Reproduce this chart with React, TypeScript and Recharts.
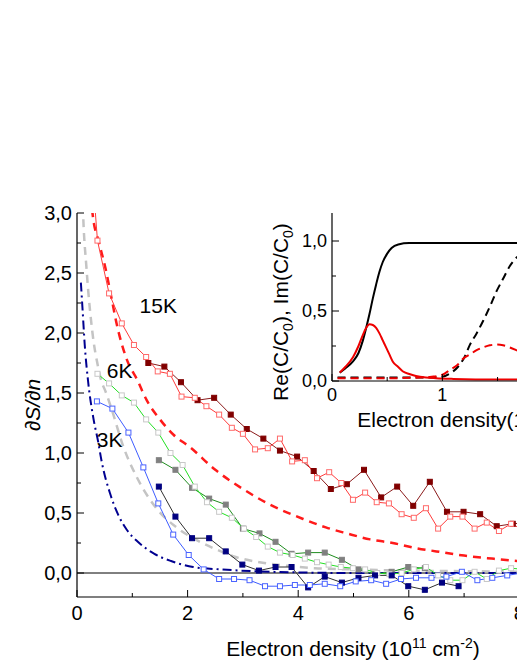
import {
  CartesianGrid,
  ComposedChart,
  Line,
  LineChart,
  ReferenceDot,
  ReferenceLine,
  XAxis,
  YAxis,
} from "recharts";

const FONT = "'Liberation Sans', Arial, Helvetica, sans-serif";

// ---- main plot: theory curves ----
const theory15X = [0.25, 0.28, 0.4, 0.51, 0.62, 0.72, 0.9, 1.1, 1.26, 1.5, 1.75, 2.04, 2.5, 3.0, 3.49, 4.09, 4.5, 4.88, 5.3, 5.71, 6.1, 6.5, 7.0, 7.5, 7.96, 8.5, 9.2, 10];
const theory15Y = [3.15, 3.0, 2.75, 2.55, 2.3, 2.07, 1.78, 1.6, 1.44, 1.28, 1.15, 1.05, 0.86, 0.7, 0.57, 0.45, 0.38, 0.33, 0.28, 0.25, 0.21, 0.18, 0.145, 0.12, 0.1, 0.085, 0.07, 0.055];

const theory6X = [0.09, 0.11, 0.17, 0.28, 0.38, 0.44, 0.51, 0.63, 0.84, 1.08, 1.4, 1.8, 2.1, 2.5, 2.82, 3.3, 3.8, 4.3, 5.0, 6.0, 7.0, 8.5, 10];
const theory6Y = [3.3, 3.0, 2.55, 2.0, 1.72, 1.6, 1.52, 1.36, 1.05, 0.8, 0.56, 0.38, 0.29, 0.2, 0.14, 0.09, 0.06, 0.04, 0.03, 0.02, 0.015, 0.01, 0.01];

const theory3X = [0.07, 0.1, 0.14, 0.2, 0.3, 0.38, 0.45, 0.6, 0.75, 0.9, 1.1, 1.4, 1.7, 2.1, 2.6, 3.2, 4.0, 5.0, 10];
const theory3Y = [2.42, 2.2, 1.9, 1.6, 1.28, 1.1, 0.92, 0.66, 0.48, 0.36, 0.26, 0.16, 0.1, 0.05, 0.03, 0.015, 0.005, 0, 0];

// ---- main plot: measured data ----
const open15X = [0.3, 0.37, 0.58, 0.81, 1.03, 1.25, 1.46, 1.68, 1.89, 2.13, 2.34, 2.57, 2.8, 3.0, 3.22, 3.45, 3.67, 3.89, 4.12, 4.34, 4.56, 4.78, 4.99, 5.21, 5.42, 5.64, 5.87, 6.09, 6.31, 6.53, 6.75, 6.97, 7.19, 7.41, 7.63, 7.85, 8.07, 8.29];
const open15Y = [3.2, 2.77, 2.33, 2.08, 1.9, 1.8, 1.68, 1.66, 1.47, 1.46, 1.39, 1.32, 1.21, 1.16, 1.03, 1.04, 1.12, 0.93, 0.94, 0.79, 0.84, 0.75, 0.61, 0.67, 0.59, 0.58, 0.49, 0.46, 0.54, 0.37, 0.47, 0.47, 0.37, 0.42, 0.35, 0.41, 0.36, 0.38];

const full15X = [1.29, 1.58, 1.88, 2.18, 2.48, 2.78, 3.07, 3.37, 3.67, 3.98, 4.28, 4.59, 4.88, 5.19, 5.5, 5.79, 6.08, 6.38, 6.69, 6.99, 7.29, 7.59, 7.88, 8.18];
const full15Y = [1.75, 1.72, 1.59, 1.44, 1.46, 1.32, 1.2, 1.12, 1.02, 0.97, 0.85, 0.7, 0.74, 0.86, 0.63, 0.72, 0.56, 0.76, 0.51, 0.51, 0.49, 0.39, 0.41, 0.42];

const open6X = [0.37, 0.58, 0.81, 1.03, 1.25, 1.47, 1.69, 1.91, 2.13, 2.35, 2.57, 2.8, 3.02, 3.24, 3.45, 3.67, 3.9, 4.12, 4.34, 4.55, 4.77, 4.99, 5.21, 5.43, 5.65, 5.87, 6.09, 6.31, 6.53, 6.75, 6.97, 7.19, 7.41, 7.63, 7.85, 8.07];
const open6Y = [1.66, 1.58, 1.48, 1.42, 1.28, 1.17, 1.0, 0.9, 0.72, 0.59, 0.51, 0.46, 0.37, 0.3, 0.22, 0.17, 0.15, 0.12, 0.09, 0.07, 0.05, 0.04, 0.03, 0.0, -0.01, 0.0, 0.03, 0.05, -0.02, -0.06, -0.06, 0.01, -0.05, 0.02, 0.04, 0.03];

const full6X = [1.48, 1.78, 2.08, 2.39, 2.69, 3.0, 3.3, 3.59, 3.88, 4.18, 4.48, 4.79, 5.09, 5.39, 5.69, 5.99, 6.29];
const full6Y = [0.94, 0.86, 0.71, 0.62, 0.57, 0.37, 0.33, 0.26, 0.16, 0.17, 0.17, 0.11, 0.03, -0.01, 0.01, 0.05, 0.04];

const open3X = [0.36, 0.64, 0.93, 1.2, 1.47, 1.74, 2.02, 2.29, 2.57, 2.84, 3.12, 3.4, 3.67, 3.94, 4.21, 4.48, 4.76, 5.04, 5.32, 5.59, 5.86, 6.13, 6.41, 6.68, 6.96, 7.24, 7.51, 7.78, 8.05];
const open3Y = [1.43, 1.37, 1.17, 0.88, 0.58, 0.32, 0.15, 0.03, -0.05, -0.05, -0.06, -0.11, -0.11, -0.1, -0.1, -0.09, -0.11, -0.07, -0.06, -0.09, -0.05, -0.04, -0.04, -0.03, 0.01, -0.06, -0.04, -0.02, 0.0];

const full3X = [1.48, 1.78, 2.08, 2.39, 2.69, 2.99, 3.29, 3.59, 3.88, 4.18, 4.48, 4.79, 5.09, 5.39, 5.69, 5.99, 6.29, 6.6, 6.9];
const full3Y = [0.72, 0.47, 0.29, 0.29, 0.18, 0.07, 0.02, 0.05, 0.05, -0.12, -0.03, -0.08, -0.04, -0.02, -0.02, -0.11, -0.14, -0.08, -0.11];

// ---- inset: Re / Im of C/C0 ----
const reSolidX = [0.07, 0.12, 0.19, 0.24, 0.28, 0.31, 0.34, 0.37, 0.4, 0.43, 0.46, 0.5, 0.54, 0.6, 0.7, 1.0, 1.5, 2.0, 2.7];
const reSolidY = [0.06, 0.09, 0.14, 0.2, 0.29, 0.38, 0.48, 0.59, 0.69, 0.78, 0.85, 0.91, 0.95, 0.975, 0.985, 0.985, 0.985, 0.985, 0.985];

const imSolidX = [0.07, 0.12, 0.19, 0.24, 0.28, 0.31, 0.34, 0.37, 0.4, 0.43, 0.46, 0.49, 0.52, 0.55, 0.6, 0.64, 0.7, 0.76, 0.85, 0.94, 1.1, 1.5, 2.0, 2.7];
const imSolidY = [0.06, 0.1, 0.17, 0.25, 0.33, 0.38, 0.405, 0.4, 0.38, 0.34, 0.29, 0.24, 0.19, 0.14, 0.1, 0.07, 0.05, 0.036, 0.025, 0.02, 0.015, 0.01, 0.01, 0.01];

const reDashX = [0.05, 0.5, 0.9, 1.0, 1.06, 1.14, 1.2, 1.25, 1.31, 1.37, 1.43, 1.49, 1.55, 1.61, 1.67, 1.75, 1.85, 2.0, 2.3, 2.7];
const reDashY = [0.025, 0.025, 0.025, 0.03, 0.05, 0.1, 0.17, 0.26, 0.34, 0.43, 0.53, 0.64, 0.73, 0.82, 0.88, 0.93, 0.96, 0.98, 0.985, 0.985];

const imDashX = [0.05, 0.5, 0.8, 0.9, 1.0, 1.07, 1.13, 1.19, 1.25, 1.31, 1.37, 1.43, 1.49, 1.55, 1.61, 1.67, 1.75, 1.85, 2.0, 2.2, 2.5, 2.7];
const imDashY = [0.02, 0.02, 0.025, 0.03, 0.045, 0.08, 0.11, 0.16, 0.19, 0.22, 0.24, 0.255, 0.26, 0.255, 0.24, 0.22, 0.19, 0.16, 0.12, 0.08, 0.05, 0.04];

// tick values
const mainXTicks = [0, 1, 2, 3, 4, 5, 6, 7, 8, 9, 10];
const mainYTicks = [0, 0.25, 0.5, 0.75, 1, 1.25, 1.5, 1.75, 2, 2.25, 2.5, 2.75, 3];
const insetXTicks = [0, 0.5, 1, 1.5, 2, 2.5];
const insetYTicks = [0, 0.25, 0.5, 0.75, 1];

const zip = (xs: number[], ys: number[]) => xs.map((x, i) => ({ x, y: ys[i] }));
const comma = (v: number) => v.toFixed(1).replace(".", ",");
const onStep = (v: number, step: number) => Math.abs(v / step - Math.round(v / step)) < 1e-6;

function square(stroke: string, fill: string) {
  return (props: any) => {
    const { cx, cy, payload, index } = props;
    if (cx == null || cy == null || payload.y > 3 || payload.y < -0.2) return <g key={index} />;
    return (
      <rect key={index} x={cx - 2.5} y={cy - 2.5} width={5} height={5} fill={fill} stroke={stroke} strokeWidth={1} />
    );
  };
}

const leftTick = (major: number, size: number) => (props: any) => {
  const { x, y, payload } = props;
  const big = onStep(payload.value, major);
  return (
    <g>
      <line x1={x} x2={x + (big ? 7 : 4)} y1={y} y2={y} stroke="#000" strokeWidth={1} />
      {big && (
        <text x={x - 5} y={y + size * 0.36} textAnchor="end" fontSize={size} fontFamily={FONT} fill="#000">
          {comma(payload.value)}
        </text>
      )}
    </g>
  );
};

const bottomTick = (major: number, size: number, dy: number) => (props: any) => {
  const { x, y, payload } = props;
  const big = onStep(payload.value, major);
  return (
    <g>
      <line x1={x} x2={x} y1={y} y2={y - (big ? 7 : 4)} stroke="#000" strokeWidth={1} />
      {big && (
        <text x={x} y={y + dy} textAnchor="middle" fontSize={size} fontFamily={FONT} fill="#000">
          {String(payload.value)}
        </text>
      )}
    </g>
  );
};

const topTick = (major: number) => (props: any) => {
  const { x, y, payload } = props;
  const big = onStep(payload.value, major);
  return <line x1={x} x2={x} y1={y} y2={y + (big ? 7 : 4)} stroke="#000" strokeWidth={1} />;
};

const densityTitle = (cx: number, y: number, gap: string) => (
  <text x={cx} y={y} textAnchor="middle" fontSize={21} fontFamily={FONT} fill="#000">
    {`Electron density${gap}(10`}
    <tspan dy={-8} fontSize={14}>11</tspan>
    <tspan dy={8}> cm</tspan>
    <tspan dy={-8} fontSize={14}>-2</tspan>
    <tspan dy={8}>)</tspan>
  </text>
);

function Inset() {
  return (
    <div style={{ position: "absolute", left: 232, top: 213 }}>
      <LineChart width={398} height={218} margin={{ top: 0, right: 0, bottom: 0, left: 0 }}>
        <CartesianGrid fill="#fff" horizontal={false} vertical={false} />
        <XAxis
          dataKey="x"
          type="number"
          domain={[0, 2.7]}
          allowDataOverflow
          ticks={insetXTicks}
          interval={0}
          height={50}
          tickSize={0}
          tickMargin={0}
          tick={bottomTick(1, 18, 20)}
          axisLine={{ stroke: "#000", strokeWidth: 1.2 }}
          tickLine={false}
          label={() => densityTitle(249, 214, "")}
        />
        <XAxis
          xAxisId="top"
          orientation="top"
          type="number"
          domain={[0, 2.7]}
          allowDataOverflow
          ticks={insetXTicks}
          interval={0}
          height={0}
          tickSize={0}
          tickMargin={0}
          tick={topTick(1)}
          axisLine={{ stroke: "#000", strokeWidth: 1.2 }}
          tickLine={false}
        />
        <YAxis
          type="number"
          domain={[0, 1.2]}
          allowDataOverflow
          ticks={insetYTicks}
          interval={0}
          width={100}
          tickSize={0}
          tickMargin={0}
          tick={leftTick(0.5, 18)}
          axisLine={{ stroke: "#000", strokeWidth: 1.2 }}
          tickLine={false}
          label={() => (
            <text
              x={56}
              y={99}
              transform="rotate(-90 56 99)"
              textAnchor="middle"
              fontSize={21}
              fontFamily={FONT}
              fill="#000"
            >
              Re(C/C<tspan dy={5} fontSize={14}>0</tspan>
              <tspan dy={-5}>), Im(C/C</tspan>
              <tspan dy={5} fontSize={14}>0</tspan>
              <tspan dy={-5}>)</tspan>
            </text>
          )}
        />
        <Line data={zip(reDashX, reDashY)} dataKey="y" type="monotone" stroke="#000" strokeWidth={2} strokeDasharray="8 5" dot={false} activeDot={false} isAnimationActive={false} />
        <Line data={zip(imDashX, imDashY)} dataKey="y" type="monotone" stroke="#ee0000" strokeWidth={2} strokeDasharray="8 5" dot={false} activeDot={false} isAnimationActive={false} />
        <Line data={zip(reSolidX, reSolidY)} dataKey="y" type="monotone" stroke="#000" strokeWidth={2} dot={false} activeDot={false} isAnimationActive={false} />
        <Line data={zip(imSolidX, imSolidY)} dataKey="y" type="monotone" stroke="#ee0000" strokeWidth={2} dot={false} activeDot={false} isAnimationActive={false} />
      </LineChart>
    </div>
  );
}

export default function App() {
  return (
    <div
      style={{
        position: "fixed",
        left: 0,
        top: 0,
        width: 517,
        height: 669,
        overflow: "hidden",
        background: "#fff",
      }}
    >
      <ComposedChart width={700} height={669} margin={{ top: 213, right: 70, bottom: 0, left: 0 }}>
        <XAxis
          dataKey="x"
          type="number"
          domain={[0, 10]}
          allowDataOverflow
          ticks={mainXTicks}
          interval={0}
          height={72}
          tickSize={0}
          tickMargin={0}
          tick={bottomTick(2, 20, 23)}
          axisLine={{ stroke: "#000", strokeWidth: 1.2 }}
          tickLine={false}
          label={() => densityTitle(353, 656, " ")}
        />
        <XAxis
          xAxisId="top"
          orientation="top"
          type="number"
          domain={[0, 10]}
          allowDataOverflow
          ticks={mainXTicks}
          interval={0}
          height={0}
          tickSize={0}
          tickMargin={0}
          tick={topTick(2)}
          axisLine={{ stroke: "#000", strokeWidth: 1.2 }}
          tickLine={false}
        />
        <YAxis
          type="number"
          domain={[-0.2, 3]}
          allowDataOverflow
          ticks={mainYTicks}
          interval={0}
          width={77}
          tickSize={0}
          tickMargin={0}
          tick={leftTick(0.5, 20)}
          axisLine={{ stroke: "#000", strokeWidth: 1.2 }}
          tickLine={false}
          label={() => (
            <text
              x={40}
              y={405}
              transform="rotate(-90 40 405)"
              textAnchor="middle"
              fontSize={21}
              fontStyle="italic"
              fontFamily={FONT}
              fill="#000"
            >
              ∂S/∂n
            </text>
          )}
        />
        <ReferenceLine y={0} stroke="#000" strokeWidth={1} />

        <Line data={zip(theory15X, theory15Y)} dataKey="y" type="monotone" stroke="#ff1a1a" strokeWidth={2.5} strokeDasharray="8 6" dot={false} activeDot={false} isAnimationActive={false} />
        <Line data={zip(theory6X, theory6Y)} dataKey="y" type="monotone" stroke="#c4c4c4" strokeWidth={2.5} strokeDasharray="8 6" dot={false} activeDot={false} isAnimationActive={false} />
        <Line data={zip(theory3X, theory3Y)} dataKey="y" type="monotone" stroke="#000090" strokeWidth={2} strokeDasharray="9 4 2 4" dot={false} activeDot={false} isAnimationActive={false} />

        <Line data={zip(full15X, full15Y)} dataKey="y" type="linear" stroke="#8b1a1a" strokeWidth={1} dot={square("#800000", "#800000")} activeDot={false} isAnimationActive={false} />
        <Line data={zip(open15X, open15Y)} dataKey="y" type="linear" stroke="#ff3b3b" strokeWidth={1} dot={square("#ff6a6a", "#fff")} activeDot={false} isAnimationActive={false} />
        <Line data={zip(full6X, full6Y)} dataKey="y" type="linear" stroke="#1e8c1e" strokeWidth={1} dot={square("#808080", "#808080")} activeDot={false} isAnimationActive={false} />
        <Line data={zip(open6X, open6Y)} dataKey="y" type="linear" stroke="#22e022" strokeWidth={1} dot={square("#c8c8c8", "#fff")} activeDot={false} isAnimationActive={false} />
        <Line data={zip(full3X, full3Y)} dataKey="y" type="linear" stroke="#303030" strokeWidth={1} dot={square("#000080", "#000080")} activeDot={false} isAnimationActive={false} />
        <Line data={zip(open3X, open3Y)} dataKey="y" type="linear" stroke="#3d5cff" strokeWidth={1} dot={square("#4a63ff", "#fff")} activeDot={false} isAnimationActive={false} />

        <ReferenceDot x={1.47} y={2.23} r={0} ifOverflow="visible" label={{ value: "15K", position: "center", fontSize: 21, fill: "#000", fontFamily: FONT }} />
        <ReferenceDot x={0.77} y={1.69} r={0} ifOverflow="visible" label={{ value: "6K", position: "center", fontSize: 21, fill: "#000", fontFamily: FONT }} />
        <ReferenceDot x={0.59} y={1.11} r={0} ifOverflow="visible" label={{ value: "3K", position: "center", fontSize: 21, fill: "#000", fontFamily: FONT }} />
      </ComposedChart>
      <Inset />
    </div>
  );
}
